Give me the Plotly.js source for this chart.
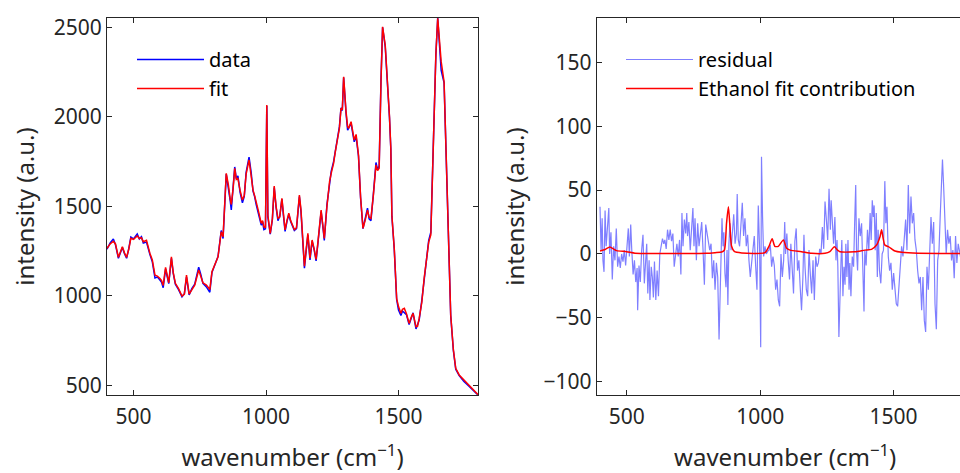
<!DOCTYPE html>
<html>
<head>
<meta charset="utf-8">
<script src="https://cdn.plot.ly/plotly-3.0.1.min.js"></script>
<style>
html,body{margin:0;padding:0;overflow:hidden;background:#fff;}
#plot{width:980px;height:473px;}
</style>
</head>
<body>
<div id="plot"></div>
<script>
// ---- left panel: measured spectrum and fit ----
const wavenumber = [
400,412,424,432,443,458,466,474,482,490,
500,514,522,530,537,549,562,571,581,590,
599,606,612,621,633,643,650,658,670,683,
692,700,710,720,731,746,754,762,775,788,
796,808,819,831,838,850,858,865,869,876,
882,888,894,902,911,918,925,936,944,951,
957,963,972,982,987,992,998,1003,1007,1016,
1024,1031,1038,1045,1052,1060,1066,1072,1079,1086,
1093,1100,1107,1115,1120,1126,1132,1140,1145,1151,
1158,1166,1174,1182,1189,1196,1202,1208,1214,1220,
1230,1240,1246,1255,1261,1267,1277,1283,1288,1293,
1297,1302,1308,1312,1321,1327,1333,1340,1349,1357,
1366,1374,1383,1389,1396,1405,1415,1421,1427,1434,
1440,1450,1459,1466,1471,1475,1484,1493,1500,1509,
1515,1522,1530,1540,1548,1555,1566,1572,1578,1588,
1597,1606,1614,1622,1628,1634,1641,1648,1655,1661,
1672,1679,1685,1697,1707,1716,1729,1747,1766,1785,
1797,1800];
const fitValues = [
1265,1290,1305,1290,1215,1274,1240,1215,1260,1321,
1315,1335,1320,1325,1302,1310,1237,1200,1116,1110,
1098,1085,1058,1159,1073,1218,1130,1070,1040,999,
1010,1116,1010,1035,1060,1144,1110,1073,1060,1035,
1135,1180,1218,1358,1330,1684,1620,1540,1510,1600,
1712,1650,1656,1590,1535,1560,1680,1759,1680,1590,
1560,1517,1470,1405,1420,1386,1380,2066,1450,1349,
1430,1613,1500,1433,1440,1545,1450,1368,1420,1461,
1420,1390,1370,1380,1460,1563,1480,1250,1166,1250,
1349,1210,1312,1260,1204,1300,1400,1479,1400,1321,
1500,1640,1684,1740,1800,1852,1936,2047,2040,2224,
2130,2029,1945,1936,1973,1920,1870,1902,1787,1550,
1377,1420,1479,1440,1433,1560,1731,1700,1712,2200,
2503,2400,2196,2000,1824,1450,1265,986,940,902,
925,930,900,846,880,902,827,830,874,964,
1100,1210,1300,1340,1650,2010,2350,2550,2420,2308,
2196,1800,1451,893,700,595,558,530,502,474,
455,448];
const dataValues = [
1260,1295,1318,1285,1210,1270,1235,1210,1262,1328,
1318,1345,1318,1330,1295,1300,1230,1190,1100,1105,
1090,1075,1045,1150,1068,1210,1125,1065,1035,995,
1012,1105,1005,1040,1065,1160,1120,1070,1050,1020,
1130,1182,1220,1365,1320,1680,1610,1530,1480,1590,
1720,1655,1670,1580,1520,1555,1690,1775,1690,1585,
1555,1510,1460,1395,1415,1370,1375,2060,1440,1345,
1425,1605,1495,1420,1445,1540,1445,1360,1415,1455,
1415,1385,1365,1375,1455,1555,1470,1240,1155,1245,
1340,1200,1305,1255,1195,1295,1395,1470,1395,1310,
1510,1650,1695,1750,1810,1860,1945,2050,2035,2220,
2120,2020,1925,1940,1965,1910,1860,1890,1780,1545,
1375,1430,1490,1430,1420,1565,1745,1705,1725,2210,
2500,2390,2190,1995,1820,1445,1260,980,920,890,
915,905,895,840,870,905,815,835,865,975,
1095,1230,1310,1355,1655,2005,2345,2552,2410,2260,
2190,1795,1445,890,695,590,555,522,495,468,
448,446];

// ---- right panel: residual and ethanol contribution ----
const residualWn = [
400,404,408,411,415,419,423,427,433,436,
441,446,451,456,461,466,471,476,481,486,
491,496,501,506,510,515,519,524,529,534,
539,541,546,551,556,561,566,571,575,579,
584,587,592,596,600,604,609,614,619,624,
629,634,639,643,648,653,658,663,668,673,
678,683,688,693,698,703,707,711,716,721,
725,728,733,738,743,748,752,756,761,766,
771,776,781,786,791,796,801,806,811,816,
821,826,831,836,841,846,
849,853,857,861,864,868,872,876,879,883,
887,891,896,901,906,911,914,918,923,928,
933,938,943,948,953,958,963,968,973,978,
983,988,993,998,1002,1005,1009,1013,1018,1023,
1028,1033,1038,1043,1048,1053,1058,1063,1068,1073,
1078,1083,1088,1092,1095,1100,1105,1110,1115,1120,
1125,1130,1135,1140,1145,1150,1155,1160,1164,1168,
1173,1178,1183,1188,1193,1198,1203,1208,1213,1218,
1223,1228,1233,1238,1243,1248,1253,1258,1263,1266,
1270,1275,1280,
1284,1288,1291,1295,1299,1303,1306,1310,1314,1318,
1321,1325,1329,1333,1336,1340,1345,1350,1354,1358,
1361,1365,1370,1375,1380,1385,1389,1392,1397,1402,
1407,1412,1416,1420,1424,1427,1431,1435,1439,1442,
1447,1452,1457,1462,1467,1471,1475,1480,1485,1490,
1495,1500,1505,1510,1515,1520,1525,1530,1535,1540,
1545,1550,1555,1560,1565,1570,1575,1580,1585,1590,
1595,1600,1605,1610,1615,1620,1625,1630,1635,1640,
1645,1650,1655,1660,1665,1670,1675,1680,1683,1687,
1692,1697,1702,1707,1712,1717,1722,1727,1732,1737,
1742,1747,1752];
const residual = [
37,3,28,-5,-14,34,6,21,36,0,
17,-20,6,-5,20,-10,-2,-11,0,-6,
3,-9,7,20,-2,23,3,-16,-5,-22,
-11,-44,-9,-22,3,15,-23,-2,8,-31,
-5,-36,-10,-18,-34,-6,-36,-13,-33,0,
7,12,8,11,4,19,11,19,10,16,
-10,0,8,-2,11,-16,32,6,27,16,
32,14,25,3,19,36,6,28,-5,24,
6,16,25,3,-24,23,16,11,3,8,
-19,-5,-28,-7,-18,-67,
-41,-5,28,6,17,-15,-26,3,-40,8,
24,3,19,31,8,16,47,11,6,21,
40,14,28,6,15,-5,-18,-7,6,14,
-9,-28,38,3,-73,76,29,-2,6,0,
2,3,7,-10,-2,-9,-28,-20,-36,-41,
0,-18,-5,25,0,16,-5,-20,8,-18,
-31,10,20,-13,-5,-26,-44,-19,15,-10,
-28,-33,3,-16,-31,-5,-36,-2,-10,-7,
4,0,21,4,41,27,11,51,19,42,
27,8,29,
-5,11,-10,-65,-23,-5,11,-33,-10,-24,
8,-18,11,-28,-7,-33,-2,-10,24,54,
3,-13,28,14,24,-23,-45,3,-9,19,
3,32,11,42,29,38,3,32,-18,19,
-13,-23,0,3,57,24,37,-2,-13,-7,
-28,-15,-28,-39,-41,-23,-5,6,-2,11,
27,3,54,16,45,24,32,11,3,-13,
-23,-18,-44,-18,-52,-61,-10,-28,3,29,
8,25,-39,-59,-5,3,32,53,74,55,
32,0,19,8,14,-5,3,-19,14,-7,
8,3,-4];
const ethanolWn = [400,419,437,450,462,500,531,600,700,800,
831,856,866,874,881,887,893,903,931,1018,
1033,1045,1055,1068,1087,1099,1112,1155,1193,1243,
1261,1278,1290,1299,1355,1392,1417,1436,1449,1455,
1461,1467,1480,1490,1505,1530,1592,1700,1800];
const ethanol = [2.3,3.5,5.5,4,2.6,1.8,0.6,0.3,0.3,0.5,
1.0,1.5,3,24,37,21,6,2,0.8,1,
6,12,6,6,11,4.4,3,1.8,0.5,0.5,
1.8,5.7,3,1.8,1.8,3,3.6,7,13.5,19,
12,7,5.7,4.4,2.3,1.3,0.5,0.4,0.3];

const leftYTicks = [500,1000,1500,2000,2500];
const rightYTicks = [-100,-50,0,50,100,150];
const xTicks = [500,1000,1500];

const W = 980, H = 473;
const axColor = '#262626';
const fontFam = '"Noto Sans", "Open Sans", sans-serif';

const traces = [
  {x: wavenumber, y: dataValues, type:'scatter', mode:'lines', name:'data',
   line:{color:'#0000ff', width:1.5}, xaxis:'x', yaxis:'y', legend:'legend'},
  {x: wavenumber, y: fitValues, type:'scatter', mode:'lines', name:'fit',
   line:{color:'#ff0000', width:1.5}, xaxis:'x', yaxis:'y', legend:'legend'},
  {x: residualWn, y: residual, type:'scatter', mode:'lines', name:'residual',
   line:{color:'rgba(0,0,255,0.5)', width:1.2}, xaxis:'x2', yaxis:'y2', legend:'legend2'},
  {x: ethanolWn, y: ethanol, type:'scatter', mode:'lines', name:'Ethanol fit contribution',
   line:{color:'#ff0000', width:1.5, shape:'spline', smoothing:0.6}, xaxis:'x2', yaxis:'y2', legend:'legend2'}
];

function axisBase(extra){
  return Object.assign({
    showgrid:false, zeroline:false, showline:true, linecolor:axColor, linewidth:1,
    ticks:'inside', ticklen:5, tickwidth:1, tickcolor:axColor, mirror:'ticks',
    tickfont:{size:21, color:axColor, family:fontFam}, fixedrange:true
  }, extra);
}

const yDom = [78/H, 455/H];
const xTitle = {text:'wavenumber (cm<sup>−1</sup>)', font:{size:24, color:axColor}, standoff:22};
const yTitle = {text:'intensity (a.u.)', font:{size:24, color:axColor}, standoff:12};
const legendBase = {xanchor:'left', yanchor:'top', bgcolor:'rgba(0,0,0,0)',
    borderwidth:0, font:{size:20, color:'#000', family:fontFam}, itemwidth:67,
    tracegroupgap:0, traceorder:'normal'};
const layout = {
  width: W, height: H,
  margin:{l:0,r:0,t:0,b:0,pad:0},
  paper_bgcolor:'#fff', plot_bgcolor:'#fff',
  font:{family:fontFam, color:axColor},
  showlegend:true,
  xaxis: axisBase({domain:[107/W, 478/W], range:[400,1800], tickvals:xTicks, anchor:'y', title:xTitle, ticklabelstandoff:3}),
  yaxis: axisBase({domain:yDom, range:[446,2552], tickvals:leftYTicks, anchor:'x', title:yTitle}),
  xaxis2: axisBase({domain:[596.7/W, 973.7/W], range:[387.6,1800], tickvals:xTicks, anchor:'y2', title:xTitle, ticklabelstandoff:3}),
  yaxis2: axisBase({domain:yDom, range:[-110.4,184.7], tickvals:rightYTicks, anchor:'x2', title:yTitle}),
  legend: Object.assign({x:132/W, y:1-40/H}, legendBase),
  legend2: Object.assign({x:621/W, y:1-40/H}, legendBase)
};

Plotly.newPlot('plot', traces, layout, {staticPlot:true, displayModeBar:false});
</script>
</body>
</html>
